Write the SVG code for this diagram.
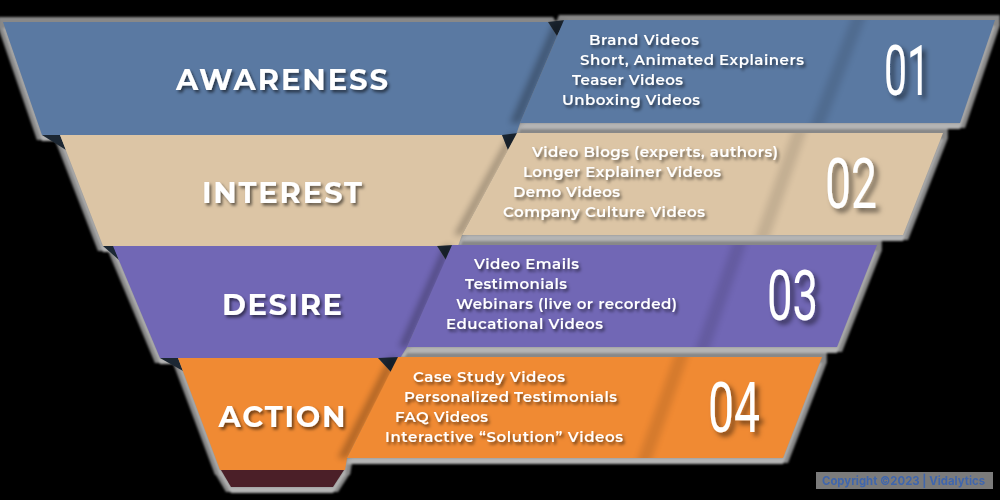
<svg xmlns="http://www.w3.org/2000/svg" xmlns:xlink="http://www.w3.org/1999/xlink" width="1000" height="500" viewBox="0 0 1000 500">
  <style>
    .lbl { font-family: Montserrat, Inter, "Noto Sans", sans-serif; font-weight: 700; font-size: 29px; fill: #fff; text-anchor: middle; }
    .item { font-family: Montserrat, Inter, "Noto Sans", sans-serif; font-weight: 600; font-size: 15px; fill: #fff; }
    .num { font-family: Roboto, "Liberation Sans", sans-serif; font-weight: 400; font-size: 70px; fill: #fff; }
    .fold { fill: #1c2733; }
    .edge { fill: #000; opacity: 0.28; }
    .div { fill: #000; opacity: 0.11; }
    .blue { fill: #5a79a2; }
    .tan { fill: #dcc5a5; }
    .purple { fill: #7167b5; }
    .orange { fill: #f08a33; }
  </style>
  <defs>
    <!-- grey rim around every band: darker all round, lighter just under the lower edge -->
    <filter id="halo" x="-5%" y="-5%" width="110%" height="110%">
      <feMorphology in="SourceAlpha" operator="dilate" radius="5" result="grow"/>
      <feFlood flood-color="#888888"/>
      <feComposite in2="grow" operator="in" result="dark"/>
      <feOffset in="SourceAlpha" dy="6" result="drop"/>
      <feComposite in="drop" in2="SourceAlpha" operator="out" result="under"/>
      <feFlood flood-color="#b4b4b4"/>
      <feComposite in2="under" operator="in" result="light"/>
      <feMerge result="m"><feMergeNode in="dark"/><feMergeNode in="light"/></feMerge>
      <feGaussianBlur in="m" stdDeviation="0.8"/>
    </filter>
    <filter id="soft" x="-50%" y="-10%" width="200%" height="120%">
      <feGaussianBlur stdDeviation="3"/>
    </filter>
    <filter id="ts" x="-10%" y="-30%" width="130%" height="170%">
      <feDropShadow dx="2" dy="2.5" stdDeviation="1.8" flood-color="#000" flood-opacity="0.55"/>
    </filter>
    <filter id="tsn" x="-30%" y="-20%" width="170%" height="150%">
      <feDropShadow dx="4" dy="4" stdDeviation="2.5" flood-color="#000" flood-opacity="0.5"/>
    </filter>
    <filter id="fuzz">
      <feGaussianBlur stdDeviation="0.7"/>
    </filter>
    <clipPath id="cp1"><use xlink:href="#p1"/></clipPath>
    <clipPath id="cp2"><use xlink:href="#p2"/></clipPath>
    <clipPath id="cp3"><use xlink:href="#p3"/></clipPath>
    <clipPath id="cp4"><use xlink:href="#p4"/></clipPath>
  </defs>

  <rect width="1000" height="500" fill="#000"/>

  <!-- rims under all bands -->
  <g id="rims" filter="url(#halo)">
    <use xlink:href="#f1"/><use xlink:href="#p1"/>
    <use xlink:href="#f2"/><use xlink:href="#p2"/>
    <use xlink:href="#f3"/><use xlink:href="#p3"/>
    <use xlink:href="#f4"/><use xlink:href="#p4"/>
    <use xlink:href="#base"/>
  </g>

  <!-- 01 Awareness -->
  <g id="awareness">
    <polygon id="f1" class="blue" points="3,22 548,22 557,36 520,123 516,135 42,135"/>
    <polygon class="fold" points="548,22 565,20 557,36"/>
    <polygon class="edge" filter="url(#soft)" points="554,22 564,22 520,123 510,123"/>
    <polygon id="p1" class="blue" points="564,20 995,20 960,123 520,123"/>
    <polygon class="div" filter="url(#soft)" clip-path="url(#cp1)" points="853,14 867,14 823,129 809,129"/>
    <text class="lbl" x="282" y="90" textLength="212" filter="url(#ts)">AWARENESS</text>
    <g class="item" filter="url(#ts)">
      <text x="589" y="45" textLength="110">Brand Videos</text>
      <text x="580" y="65" textLength="224">Short, Animated Explainers</text>
      <text x="572" y="85" textLength="111">Teaser Videos</text>
      <text x="562" y="105" textLength="138">Unboxing Videos</text>
    </g>
    <text class="num" x="884" y="95" textLength="46" lengthAdjust="spacingAndGlyphs" filter="url(#tsn)">01</text>
  </g>

  <!-- 02 Interest -->
  <g id="interest">
    <polygon class="fold" points="42,135 60,135 66,150"/>
    <polygon id="f2" class="tan" points="60,135 502,135 508,150 462,235 458,246 103,246"/>
    <polygon class="fold" points="502,135 518,133 508,150"/>
    <polygon class="edge" filter="url(#soft)" points="509,135 517,133 462,235 454,235"/>
    <polygon id="p2" class="tan" points="517,133 943,133 903,235 462,235"/>
    <polygon class="div" filter="url(#soft)" clip-path="url(#cp2)" points="794,127 808,127 768,241 754,241"/>
    <text class="lbl" x="282" y="203" textLength="160" filter="url(#ts)">INTEREST</text>
    <g class="item" filter="url(#ts)">
      <text x="532" y="157" textLength="246">Video Blogs (experts, authors)</text>
      <text x="523" y="177" textLength="198">Longer Explainer Videos</text>
      <text x="513" y="197" textLength="107">Demo Videos</text>
      <text x="503" y="217" textLength="202">Company Culture Videos</text>
    </g>
    <text class="num" x="825" y="208" textLength="52" lengthAdjust="spacingAndGlyphs" filter="url(#tsn)">02</text>
  </g>

  <!-- 03 Desire -->
  <g id="desire">
    <polygon class="fold" points="103,246 114,246 119,260"/>
    <polygon id="f3" class="purple" points="113,246 437,246 446,260 407,347 400,358 160,358"/>
    <polygon class="fold" points="437,246 453,245 446,260"/>
    <polygon class="edge" filter="url(#soft)" points="444,246 452,245 407,347 399,347"/>
    <polygon id="p3" class="purple" points="452,245 877,245 837,347 407,347"/>
    <polygon class="div" filter="url(#soft)" clip-path="url(#cp3)" points="734,239 748,239 708,353 694,353"/>
    <text class="lbl" x="282" y="315" textLength="120" filter="url(#ts)">DESIRE</text>
    <g class="item" filter="url(#ts)">
      <text x="474" y="269" textLength="105">Video Emails</text>
      <text x="465" y="289" textLength="102">Testimonials</text>
      <text x="456" y="309" textLength="221">Webinars (live or recorded)</text>
      <text x="446" y="329" textLength="157">Educational Videos</text>
    </g>
    <text class="num" x="767" y="320" textLength="51" lengthAdjust="spacingAndGlyphs" filter="url(#tsn)">03</text>
  </g>

  <!-- 04 Action -->
  <g id="action">
    <polygon class="fold" points="160,358 178,358 183,371"/>
    <polygon id="f4" class="orange" points="178,358 378,358 391,372 347,458 345,470 220,470"/>
    <polygon id="base" fill="#4b1f28" points="221,470 344,470 333,487 231,487"/>
    <polygon class="fold" points="378,358 399,357 391,372"/>
    <polygon class="edge" filter="url(#soft)" points="389,358 398,357 347,458 338,458"/>
    <polygon id="p4" class="orange" points="398,357 822,357 783,458 347,458"/>
    <polygon class="div" filter="url(#soft)" clip-path="url(#cp4)" points="676,351 690,351 650,464 636,464"/>
    <text class="lbl" x="282" y="427" textLength="127" filter="url(#ts)">ACTION</text>
    <g class="item" filter="url(#ts)">
      <text x="413" y="382" textLength="152">Case Study Videos</text>
      <text x="404" y="402" textLength="213">Personalized Testimonials</text>
      <text x="395" y="422" textLength="93">FAQ Videos</text>
      <text x="385" y="442" textLength="238">Interactive “Solution” Videos</text>
    </g>
    <text class="num" x="708" y="432" textLength="52" lengthAdjust="spacingAndGlyphs" filter="url(#tsn)">04</text>
  </g>

  <!-- copyright tag -->
  <g id="copyright">
    <rect x="816" y="472" width="177" height="17" fill="#7b7b7b"/>
    <text x="822" y="485" font-family="Inter, 'Noto Sans', sans-serif" font-weight="700" font-size="12" fill="#3f66ad" textLength="163" lengthAdjust="spacingAndGlyphs" filter="url(#fuzz)">Copyright ©2023 | Vidalytics</text>
  </g>
</svg>
